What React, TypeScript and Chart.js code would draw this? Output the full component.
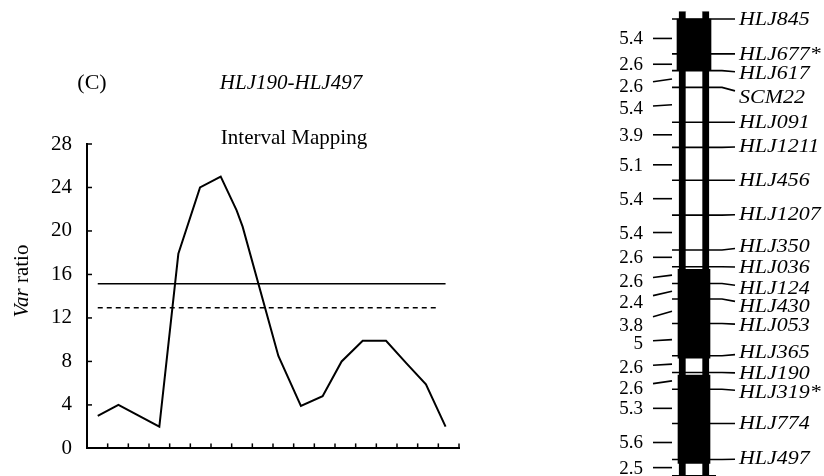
import React, { useEffect, useRef } from "react";
import { Chart, registerables } from "chart.js";
Chart.register(...registerables);

const SERIF = "'Liberation Serif', 'Times New Roman', serif";

// ---------- Panel C : interval mapping profile ----------
const panelTag = "(C)";
const intervalName = "HLJ190-HLJ497";
const methodTitle = "Interval Mapping";
const mapPositions = [0.52, 1.52, 3.5, 4.42, 5.47, 6.47, 7.24, 7.53, 9.26, 10.35, 11.4, 12.32, 13.34, 14.47, 15.47, 16.4, 17.35];
const varRatio = [3.0, 4.0, 2.0, 17.9, 24.0, 25.0, 21.9, 20.4, 8.5, 3.9, 4.8, 8.0, 9.9, 9.9, 7.8, 5.9, 2.0];
const yTicks = [0, 4, 8, 12, 16, 20, 24, 28];
const xTicks = [1, 2, 3, 4, 5, 6, 7, 8, 9, 10, 11, 12, 13, 14, 15, 16, 17, 18];
const solidThreshold = 15.15;
const dashedThreshold = 12.94;
const thresholdStart = 0.52;
const solidEnd = 17.35;
const dashedEnd = 17.03;

// ---------- Linkage map ----------
const markers = ["HLJ845", "HLJ677*", "HLJ617", "SCM22", "HLJ091", "HLJ1211", "HLJ456", "HLJ1207", "HLJ350", "HLJ036", "HLJ124", "HLJ430", "HLJ053", "HLJ365", "HLJ190", "HLJ319*", "HLJ774", "HLJ497"];
const intervals = [5.4, 2.6, 2.6, 5.4, 3.9, 5.1, 5.4, 5.4, 2.6, 2.6, 2.4, 3.8, 5, 2.6, 2.6, 5.3, 5.6, 2.5];
const filledBlocks: [number, number][] = [[0, 8.0], [38.8, 52.6], [55.2, 68.9]];
const chromosomeSpan: [number, number] = [-1.2, 73];
// label nudges (px) to avoid overlaps, as in the figure
const markerLabelNudge = [0, 0, 3, 10, 0, -1, 0, -1, -4, 1, 5, 7, 2, -3, 1, 3, 0, -1];
const intervalLabelNudge = [2, 2, 7, 3, 0, 1, 1, 0, -1, 6, 11, 14, 3, 3, 7, 2, 1, 0];

const cumulative: number[] = [0];
intervals.forEach((d, i) => cumulative.push(+(cumulative[i] + d).toFixed(2)));

const profileDecor = {
  id: "profileDecor",
  afterDraw(chart: any) {
    const { ctx, scales } = chart;
    const x = scales.x;
    const y = scales.y;
    ctx.save();
    ctx.strokeStyle = "#000";
    ctx.lineWidth = 1.5;
    yTicks.forEach((v) => {
      if (v === 0) return;
      const py = y.getPixelForValue(v);
      ctx.beginPath();
      ctx.moveTo(x.left, py);
      ctx.lineTo(x.left + 5, py);
      ctx.stroke();
    });
    xTicks.forEach((v) => {
      const px = x.getPixelForValue(v);
      ctx.beginPath();
      ctx.moveTo(px, y.bottom);
      ctx.lineTo(px, y.bottom - 5);
      ctx.stroke();
    });
    ctx.fillStyle = "#000";
    ctx.textBaseline = "middle";
    ctx.textAlign = "center";
    ctx.font = `22px ${SERIF}`;
    ctx.fillText(panelTag, 92, 83);
    ctx.font = `italic 21px ${SERIF}`;
    ctx.fillText(intervalName, 291, 83);
    ctx.font = `21px ${SERIF}`;
    ctx.fillText(methodTitle, 294, 138);
    // y axis title: "Var" italic + " ratio"
    ctx.translate(22, 281);
    ctx.rotate(-Math.PI / 2);
    ctx.font = `italic 21px ${SERIF}`;
    const w1 = ctx.measureText("Var").width;
    ctx.font = `21px ${SERIF}`;
    const w2 = ctx.measureText(" ratio").width;
    const start = -(w1 + w2) / 2;
    ctx.textAlign = "left";
    ctx.font = `italic 21px ${SERIF}`;
    ctx.fillText("Var", start, 0);
    ctx.font = `21px ${SERIF}`;
    ctx.fillText(" ratio", start + w1, 0);
    ctx.restore();
  },
};

const mapDecor = {
  id: "mapDecor",
  afterDatasetsDraw(chart: any) {
    const { ctx, scales } = chart;
    const y = scales.y;
    const cx = scales.x.getPixelForValue(0);
    ctx.save();
    ctx.strokeStyle = "#000";
    ctx.fillStyle = "#000";
    ctx.lineWidth = 1.6;
    // marker lines + names
    cumulative.forEach((c, i) => {
      const py = y.getPixelForValue(c);
      const name = markers[i];
      if (name === undefined) {
        ctx.beginPath();
        ctx.moveTo(cx - 22, py);
        ctx.lineTo(cx + 22, py);
        ctx.stroke();
        return;
      }
      const nudge = markerLabelNudge[i] || 0;
      ctx.beginPath();
      ctx.moveTo(cx - 22, py);
      ctx.lineTo(cx + 28, py);
      ctx.lineTo(cx + 41, py + nudge * 0.35);
      ctx.stroke();
      ctx.save();
      ctx.translate(cx + 45, py + nudge);
      ctx.scale(1.22, 1);
      ctx.font = `italic 18px ${SERIF}`;
      ctx.textAlign = "left";
      ctx.textBaseline = "middle";
      ctx.fillText(name, 0, 1);
      ctx.restore();
    });
    // interval distances
    intervals.forEach((d, i) => {
      const mid = y.getPixelForValue((cumulative[i] + cumulative[i + 1]) / 2);
      const nudge = intervalLabelNudge[i] || 0;
      const ly = mid + nudge;
      ctx.beginPath();
      if (Math.abs(nudge) <= 2) {
        ctx.moveTo(cx - 41, ly);
        ctx.lineTo(cx - 22, ly);
      } else {
        ctx.moveTo(cx - 41, mid + nudge * 0.4);
        ctx.lineTo(cx - 22, mid);
      }
      ctx.stroke();
      ctx.font = `19px ${SERIF}`;
      ctx.textAlign = "right";
      ctx.textBaseline = "middle";
      ctx.fillText(String(d), cx - 51, ly + 1);
    });
    ctx.restore();
  },
};

export default function App() {
  const profileRef = useRef<HTMLCanvasElement>(null);
  const mapRef = useRef<HTMLCanvasElement>(null);

  useEffect(() => {
    const c1 = new Chart(profileRef.current as HTMLCanvasElement, {
      type: "line",
      data: {
        datasets: [
          {
            data: mapPositions.map((p, i) => ({ x: p, y: varRatio[i] })),
            borderColor: "#000",
            borderWidth: 2,
            pointRadius: 0,
            tension: 0,
          },
          {
            data: [
              { x: thresholdStart, y: solidThreshold },
              { x: solidEnd, y: solidThreshold },
            ],
            borderColor: "#000",
            borderWidth: 1.4,
            pointRadius: 0,
          },
          {
            data: [
              { x: thresholdStart, y: dashedThreshold },
              { x: dashedEnd, y: dashedThreshold },
            ],
            borderColor: "#000",
            borderWidth: 1.6,
            borderDash: [5, 4],
            pointRadius: 0,
          },
        ],
      },
      options: {
        responsive: false,
        animation: false,
        layout: { padding: { top: 144, left: 0, right: 101, bottom: 0 } },
        plugins: { legend: { display: false }, tooltip: { enabled: false } },
        scales: {
          x: {
            type: "linear",
            min: 0,
            max: 18,
            ticks: { display: false },
            grid: { drawOnChartArea: false, drawTicks: false },
            border: { display: true, color: "#000", width: 2 },
            afterFit: (s: any) => {
              s.height = 15;
            },
          },
          y: {
            type: "linear",
            min: 0,
            max: 28,
            afterBuildTicks: (s: any) => {
              s.ticks = yTicks.map((v) => ({ value: v }));
            },
            ticks: { color: "#000", padding: 15, font: { family: SERIF, size: 21 } },
            grid: { drawOnChartArea: false, drawTicks: false },
            border: { display: true, color: "#000", width: 2 },
            afterFit: (s: any) => {
              s.width = 87;
            },
          },
        },
      } as any,
      plugins: [profileDecor],
    });

    const blockSets = filledBlocks.map((b, i) => ({
      data: [b],
      backgroundColor: "#000",
      borderWidth: 0,
      barThickness: i === 0 ? 34 : 32,
      grouped: false,
      order: 1,
    }));
    const c2 = new Chart(mapRef.current as HTMLCanvasElement, {
      type: "bar",
      data: {
        labels: ["chromosome"],
        datasets: [
          ...blockSets,
          {
            data: [chromosomeSpan],
            backgroundColor: "#fff",
            borderColor: "#000",
            borderWidth: { left: 7, right: 7, top: 0, bottom: 0 },
            borderSkipped: false,
            barThickness: 30,
            grouped: false,
            order: 2,
          },
        ],
      } as any,
      options: {
        responsive: false,
        animation: false,
        layout: { padding: { left: 4, right: 0, top: 0, bottom: 0 } },
        plugins: { legend: { display: false }, tooltip: { enabled: false } },
        scales: {
          x: { type: "category", display: false },
          y: { type: "linear", reverse: true, min: -2.95, max: 70.85, display: false },
        },
      } as any,
      plugins: [mapDecor],
    });

    return () => {
      c1.destroy();
      c2.destroy();
    };
  }, []);

  return (
    <div style={{ position: "fixed", left: 0, top: 0, width: 824, height: 476, background: "#fff" }}>
      <canvas ref={profileRef} width={560} height={476} style={{ position: "absolute", left: 0, top: 0 }} />
      <canvas ref={mapRef} width={264} height={476} style={{ position: "absolute", left: 560, top: 0 }} />
    </div>
  );
}
